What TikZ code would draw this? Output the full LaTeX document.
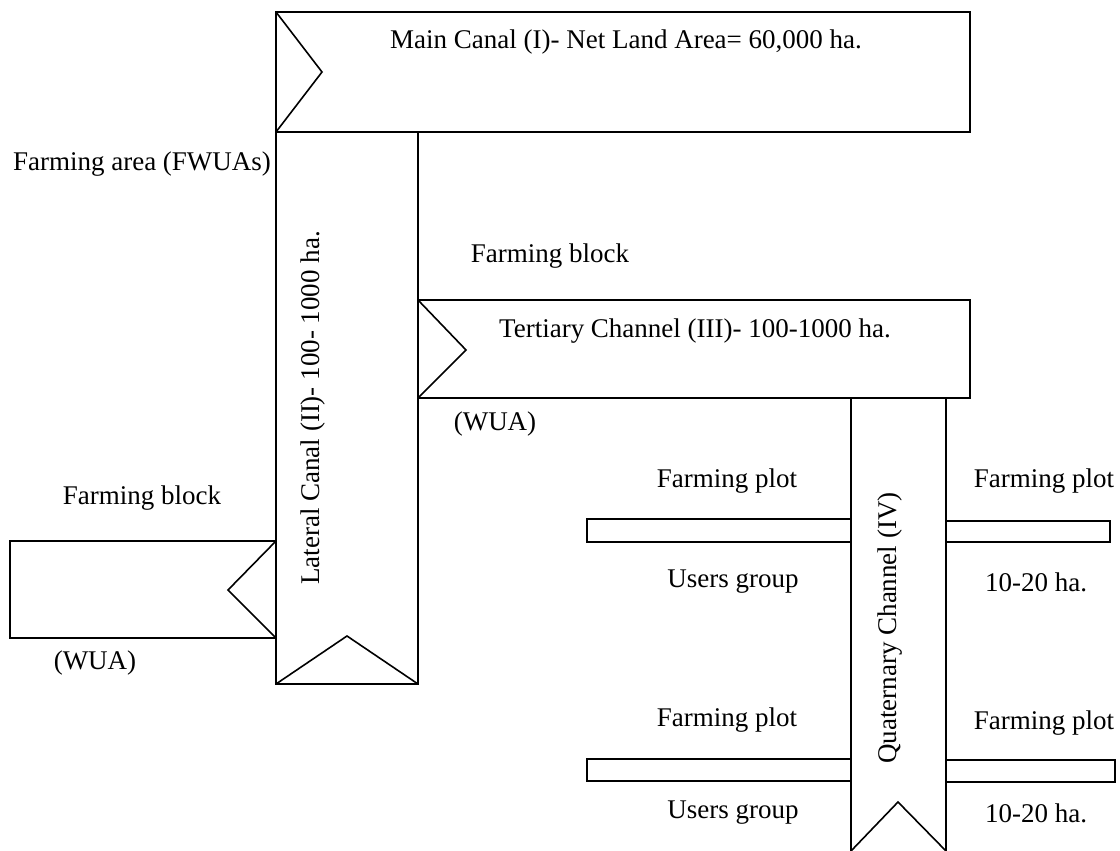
\documentclass[tikz,border=0pt]{standalone}
\usepackage{fontspec}
\setmainfont{Liberation Serif}
\begin{document}
\begin{tikzpicture}[x=0.5pt,y=-0.5pt,line width=0.8pt,
	lbl/.style={font=\fontsize{13.5}{16}\selectfont,inner sep=0pt}]
	\useasboundingbox (0,0) rectangle (1120,851);
	% main canal
	\draw (276,12) rectangle (970,132);
	\draw (276,12) -- (322,72) -- (276,132);
	% lateral canal
	\draw (276,132) -- (276,684) -- (418,684) -- (418,132);
	\draw (276,684) -- (347,636) -- (418,684);
	% tertiary channel
	\draw (418,300) rectangle (970,398);
	\draw (418,300) -- (466,350) -- (418,398);
	% quaternary channel
	\draw (851,398) -- (851,851);
	\draw (946,398) -- (946,851);
	\draw (851,851) -- (898,802) -- (946,851);
	% farming block on the left
	\draw (10,541) rectangle (276,638);
	\draw (276,541) -- (228,590) -- (276,638);
	% farming plots
	\draw (587,519) rectangle (851,542);
	\draw (946,521) rectangle (1110,542);
	\draw (587,759) rectangle (851,781);
	\draw (946,760) rectangle (1115,782);
	% labels
	\node[lbl] (main) at (626,42) {Main Canal (I)- Net Land Area= 60,000 ha.};
	\node[lbl] (area) at (142,164) {Farming area (FWUAs)};
	\node[lbl,rotate=90] (lateral) at (313,408) {Lateral Canal (II)- 100- 1000 ha.};
	\node[lbl] (blockA) at (550,256) {Farming block};
	\node[lbl] (tertiary) at (695,331) {Tertiary Channel (III)- 100-1000 ha.};
	\node[lbl] (wuaA) at (495,424) {(WUA)};
	\node[lbl,rotate=90] (quaternary) at (890,628) {Quaternary Channel (IV)};
	\node[lbl] (plotA) at (727,481) {Farming plot};
	\node[lbl] (plotB) at (1044,481) {Farming plot};
	\node[lbl] (plotC) at (727,720) {Farming plot};
	\node[lbl] (plotD) at (1044,723) {Farming plot};
	\node[lbl] (usersA) at (733,582) {Users group};
	\node[lbl] (usersB) at (733,813) {Users group};
	\node[lbl] (haA) at (1036,582) {10-20 ha.};
	\node[lbl] (haB) at (1036,813) {10-20 ha.};
	\node[lbl] (blockB) at (142,498) {Farming block};
	\node[lbl] (wuaB) at (95,663) {(WUA)};
\end{tikzpicture}
\end{document}
